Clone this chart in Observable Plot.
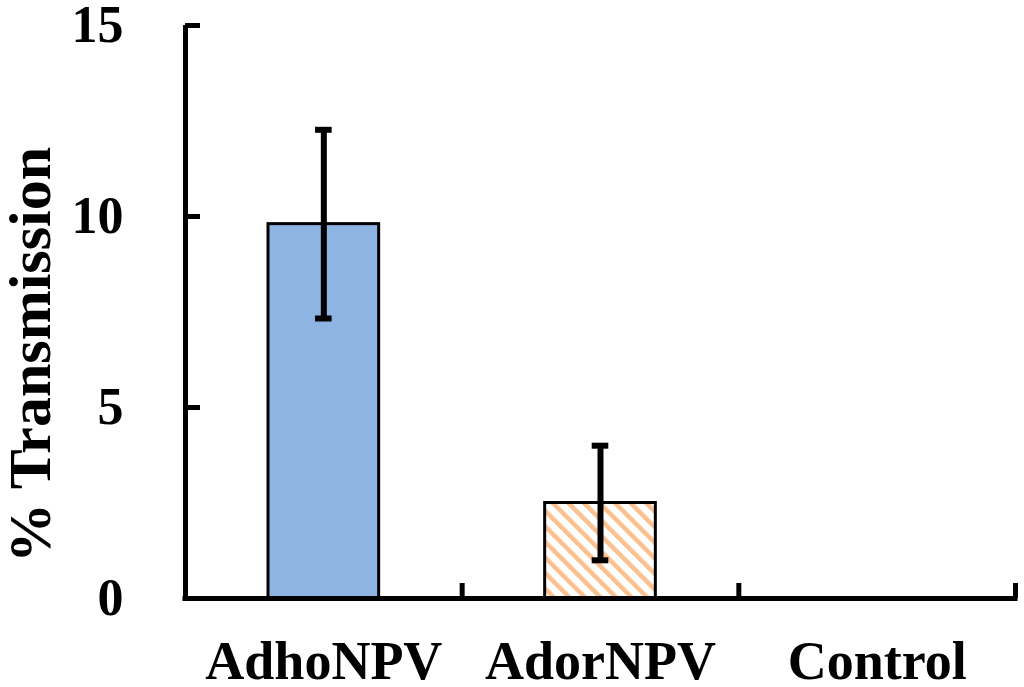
<!DOCTYPE html>
<html>
<head>
<meta charset="utf-8">
<script src="https://cdn.jsdelivr.net/npm/d3@7"></script>
<script src="https://cdn.jsdelivr.net/npm/@observablehq/plot@0.6"></script>
<style>
  html, body { margin: 0; padding: 0; background: #fff; }
  #chart svg { display: block; }
</style>
</head>
<body>
<div id="chart"></div>
<script>
const categories = ["AdhoNPV", "AdorNPV", "Control"];
const values = [9.8, 2.5, 0];
const errors = [2.47, 1.5, 0];
const fills = ["#8EB4E3", "url(#hatch)", "#ffffff"];
const yTicks = [0, 5, 10, 15];
const yLabel = "% Transmission";

const font = "'Liberation Serif', 'Times New Roman', serif";

const data = categories.map((c, i) => ({
  cat: c, i, value: values[i], err: errors[i], fill: fills[i]
}));
const withBars = data.filter(d => d.value > 0);

const barHalf = 0.2;   // half bar width in band units
const capHalf = 0.03;  // half error cap width

function defs() {
  const d = d3.create("svg:defs");
  const p = d.append("pattern")
    .attr("id", "hatch")
    .attr("patternUnits", "userSpaceOnUse")
    .attr("width", 11)
    .attr("height", 11)
    .attr("patternTransform", "rotate(-45)");
  p.append("rect").attr("width", 11).attr("height", 11).attr("fill", "#ffffff");
  p.append("rect").attr("x", 0).attr("y", 0).attr("width", 4.5).attr("height", 11).attr("fill", "#FAC090");
  return d.node();
}

const chart = Plot.plot({
  width: 1024,
  height: 687,
  marginLeft: 185,
  marginRight: 9,
  marginTop: 25,
  marginBottom: 89,
  style: { fontFamily: font, background: "#fff" },
  x: { domain: [0, 3], axis: null },
  y: { domain: [0, 15], axis: null },
  marks: [
    defs,
    Plot.rectY(withBars, {
      x1: d => d.i + 0.5 - barHalf,
      x2: d => d.i + 0.5 + barHalf,
      y1: 0,
      y2: "value",
      fill: "fill",
      stroke: "black",
      strokeWidth: 3
    }),
    // y axis line
    Plot.ruleX([0], { y1: 0, y2: 15, strokeWidth: 5, stroke: "black" }),
    // x axis line
    Plot.ruleY([0], { x1: 0, x2: 3, strokeWidth: 5, stroke: "black", insetLeft: -2.5, insetRight: -2.5 }),
    // y ticks pointing inward
    Plot.axisY({ ticks: yTicks, tickSize: 15, dx: 15, strokeWidth: 5, tickFormat: () => "", label: null }),
    // y tick labels
    Plot.axisY({
      ticks: yTicks, tickSize: 0, tickPadding: 62, label: null,
      fontSize: 52, fontWeight: "bold", fontFamily: font, fill: "black"
    }),
    // x ticks pointing inward at category boundaries
    Plot.axisX({ ticks: [1, 2, 3], tickSize: 15, dy: -15, strokeWidth: 5, tickFormat: () => "", label: null }),
    // x category labels
    Plot.axisX({
      ticks: categories.map((c, i) => i + 0.5),
      tickSize: 0, tickPadding: 42, label: null,
      tickFormat: d => categories[Math.floor(d)],
      fontSize: 54, fontWeight: "bold", fontFamily: font, fill: "black"
    }),
    // error bars
    Plot.ruleX(withBars, {
      x: d => d.i + 0.5,
      y1: d => d.value - d.err,
      y2: d => d.value + d.err,
      stroke: "black", strokeWidth: 6
    }),
    Plot.ruleY(withBars, {
      y: d => d.value + d.err,
      x1: d => d.i + 0.5 - capHalf,
      x2: d => d.i + 0.5 + capHalf,
      stroke: "black", strokeWidth: 6
    }),
    Plot.ruleY(withBars, {
      y: d => d.value - d.err,
      x1: d => d.i + 0.5 - capHalf,
      x2: d => d.i + 0.5 + capHalf,
      stroke: "black", strokeWidth: 6
    }),
    // y axis title
    Plot.text([yLabel], {
      frameAnchor: "left", textAnchor: "middle", rotate: -90, dx: -155, dy: 43,
      fontSize: 60, fontWeight: "bold", fontFamily: font, fill: "black"
    })
  ]
});

document.getElementById("chart").appendChild(chart);
</script>
</body>
</html>
